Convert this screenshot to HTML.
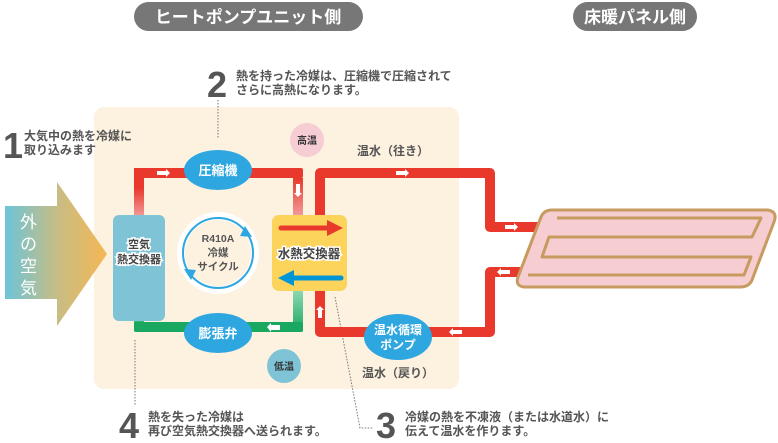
<!DOCTYPE html>
<html><head><meta charset="utf-8"><style>
html,body{margin:0;padding:0;background:#fff;}
svg{display:block;font-family:"Liberation Sans","Noto Sans CJK JP",sans-serif;font-weight:bold;}
</style></head><body>
<svg width="778" height="443" viewBox="0 0 778 443" xmlns="http://www.w3.org/2000/svg">
<defs>
<linearGradient id="air" x1="0" x2="1" y1="0" y2="0"><stop offset="0" stop-color="#6cc4d8"/><stop offset="0.5" stop-color="#c6bd86"/><stop offset="1" stop-color="#f5b753"/></linearGradient>
<linearGradient id="rp" x1="0" y1="0" x2="0" y2="1"><stop offset="0" stop-color="#e8392c"/><stop offset="1" stop-color="#f3a0a0"/></linearGradient>
<linearGradient id="gp" x1="0" y1="0" x2="0" y2="1"><stop offset="0" stop-color="#8ed8b2"/><stop offset="1" stop-color="#1aa860"/></linearGradient>
</defs>
<rect x="134" y="2" width="229" height="29" rx="14.5" fill="#777"/>
<text x="248" y="23" font-size="17" fill="#fff" text-anchor="middle">ヒートポンプユニット側</text>
<rect x="573" y="2" width="124" height="29" rx="14.5" fill="#777"/>
<text x="635" y="23" font-size="17" fill="#fff" text-anchor="middle">床暖パネル側</text>
<rect x="94" y="107" width="365" height="282" rx="10" fill="#fdf1e0"/>
<g stroke="#777" stroke-width="1" stroke-dasharray="1.5,1.5" fill="none">
<line x1="218" y1="100" x2="218" y2="138"/>
<line x1="135" y1="340" x2="135" y2="405"/>
<polyline points="335,297 360,428 373,428"/>
</g>
<text x="3" y="158" font-size="36" fill="#555">1</text>
<text x="24" y="140" font-size="12" fill="#555">大気中の熱を冷媒に</text>
<text x="24" y="154" font-size="12" fill="#555">取り込みます</text>
<text x="207" y="97" font-size="36" fill="#555">2</text>
<text x="236" y="80" font-size="12" fill="#555">熱を持った冷媒は、圧縮機で圧縮されて</text>
<text x="236" y="94" font-size="12" fill="#555">さらに高熱になります。</text>
<text x="119" y="438" font-size="36" fill="#555">4</text>
<text x="148" y="421" font-size="12" fill="#555">熱を失った冷媒は</text>
<text x="148" y="435" font-size="12" fill="#555">再び空気熱交換器へ送られます。</text>
<text x="376" y="438" font-size="36" fill="#555">3</text>
<text x="405" y="421" font-size="12" fill="#555">冷媒の熱を不凍液（または水道水）に</text>
<text x="405" y="435" font-size="12" fill="#555">伝えて温水を作ります。</text>
<polygon points="5,206 57,206 57,182 107,254 57,326 57,299 5,299" fill="url(#air)"/>
<text x="20" y="228" font-size="17" fill="#fff" font-weight="normal">外</text>
<text x="20" y="250" font-size="17" fill="#fff" font-weight="normal">の</text>
<text x="20" y="272" font-size="17" fill="#fff" font-weight="normal">空</text>
<text x="20" y="294" font-size="17" fill="#fff" font-weight="normal">気</text>
<rect x="134" y="168" width="10" height="22" fill="#e8392c"/>
<rect x="134" y="188" width="10" height="30" fill="url(#rp)"/>
<rect x="293" y="178" width="10" height="40" fill="url(#rp)"/>
<rect x="134" y="290" width="10" height="42" rx="2" fill="url(#gp)"/>
<rect x="293" y="290" width="10" height="42" rx="2" fill="url(#gp)"/>
<rect x="134" y="322" width="169" height="10" rx="2" fill="#1aa860"/>
<rect x="134" y="168" width="169" height="10" rx="2" fill="#e8392c"/>
<path d="M320,215 V173 H490 V227 H545" stroke="#e8392c" stroke-width="10" fill="none" stroke-linejoin="round"/>
<path d="M530,272 H490 V332 H320 V290" stroke="#e8392c" stroke-width="10" fill="none" stroke-linejoin="round"/>
<g fill="#fff">
<polygon points="157,171 166,171 166,169 170,173 166,177 166,175 157,175"/>
<polygon points="296,184 300,184 300,193 302,193 298,197 294,193 296,193"/>
<polygon points="280,330 271,330 271,332 267,327 271,323 271,325 280,325"/>
<polygon points="137,316 141,316 141,308 143,308 139,304 135,308 137,308"/>
<polygon points="396,171 405,171 405,169 409,173 405,177 405,175 396,175"/>
<polygon points="505,225 514,225 514,223 518,227 514,231 514,229 505,229"/>
<polygon points="510,270 501,270 501,268 497,272 501,276 501,274 510,274"/>
<polygon points="462,330 453,330 453,328 449,332 453,336 453,334 462,334"/>
<polygon points="318,318 322,318 322,310 324,310 320,306 316,310 318,310"/>
</g>
<rect x="113" y="215" width="52" height="106" rx="6" fill="#7fc4d6"/>
<text x="139" y="248" font-size="11" fill="#444" text-anchor="middle" stroke="#fff" stroke-width="3" paint-order="stroke">空気</text>
<text x="139" y="263" font-size="11" fill="#444" text-anchor="middle" stroke="#fff" stroke-width="3" paint-order="stroke">熱交換器</text>
<rect x="272" y="215" width="75" height="76" rx="7" fill="#fcd35b"/>
<line x1="281" y1="228" x2="329" y2="228" stroke="#e8392c" stroke-width="5" stroke-linecap="round"/>
<polygon points="327,220 343,228 327,236" fill="#e8392c"/>
<line x1="292" y1="278" x2="341" y2="278" stroke="#0095d5" stroke-width="5" stroke-linecap="round"/>
<polygon points="294,270 278,278 294,286" fill="#0095d5"/>
<text x="309" y="258" font-size="12.5" fill="#444" text-anchor="middle" stroke="#fff" stroke-width="3" paint-order="stroke">水熱交換器</text>
<circle cx="218" cy="253" r="41" fill="#fff"/>
<circle cx="218" cy="253" r="35" fill="none" stroke="#2ea7e0" stroke-width="2"/>
<circle cx="218" cy="253" r="33" fill="#fdf1e0"/>
<polygon points="245,226 252,237 240,236" fill="#2ea7e0"/>
<polygon points="191,280 184,269 196,270" fill="#2ea7e0"/>
<text x="218" y="242" font-size="10.5" fill="#555" text-anchor="middle">R410A</text>
<text x="218" y="256" font-size="10.5" fill="#555" text-anchor="middle">冷媒</text>
<text x="218" y="270" font-size="10.5" fill="#555" text-anchor="middle">サイクル</text>
<ellipse cx="218" cy="170" rx="34" ry="20" fill="#2ea7e0"/>
<text x="218" y="175" font-size="13" fill="#fff" text-anchor="middle">圧縮機</text>
<ellipse cx="218" cy="333" rx="34" ry="20" fill="#2ea7e0"/>
<text x="218" y="338" font-size="13" fill="#fff" text-anchor="middle">膨張弁</text>
<ellipse cx="398" cy="337" rx="34" ry="23" fill="#2ea7e0"/>
<text x="398" y="334" font-size="12" fill="#fff" text-anchor="middle">温水循環</text>
<text x="398" y="349" font-size="12" fill="#fff" text-anchor="middle">ポンプ</text>
<circle cx="307" cy="140" r="17" fill="#f5cdd3"/>
<text x="307" y="144" font-size="10" fill="#333" text-anchor="middle">高温</text>
<circle cx="284" cy="366" r="17" fill="#7fc4d6"/>
<text x="284" y="370" font-size="10" fill="#333" text-anchor="middle">低温</text>
<text x="393" y="155" font-size="12" fill="#555" text-anchor="middle">温水（往き）</text>
<text x="398" y="377" font-size="12" fill="#555" text-anchor="middle">温水（戻り）</text>
<path d="M552,210 H768 Q778,212 774,222 L752,280 Q749,287 740,287 H524 Q515,286 518,277 L541,217 Q544,210 552,210 Z" fill="#f6cdd0" stroke="#c79a60" stroke-width="3"/>
<path d="M557,218 H761 L752,237 H549 L542,257 H751 L744,275 H528" fill="none" stroke="#c79a60" stroke-width="3" stroke-linejoin="round"/>
</svg>
</body></html>
